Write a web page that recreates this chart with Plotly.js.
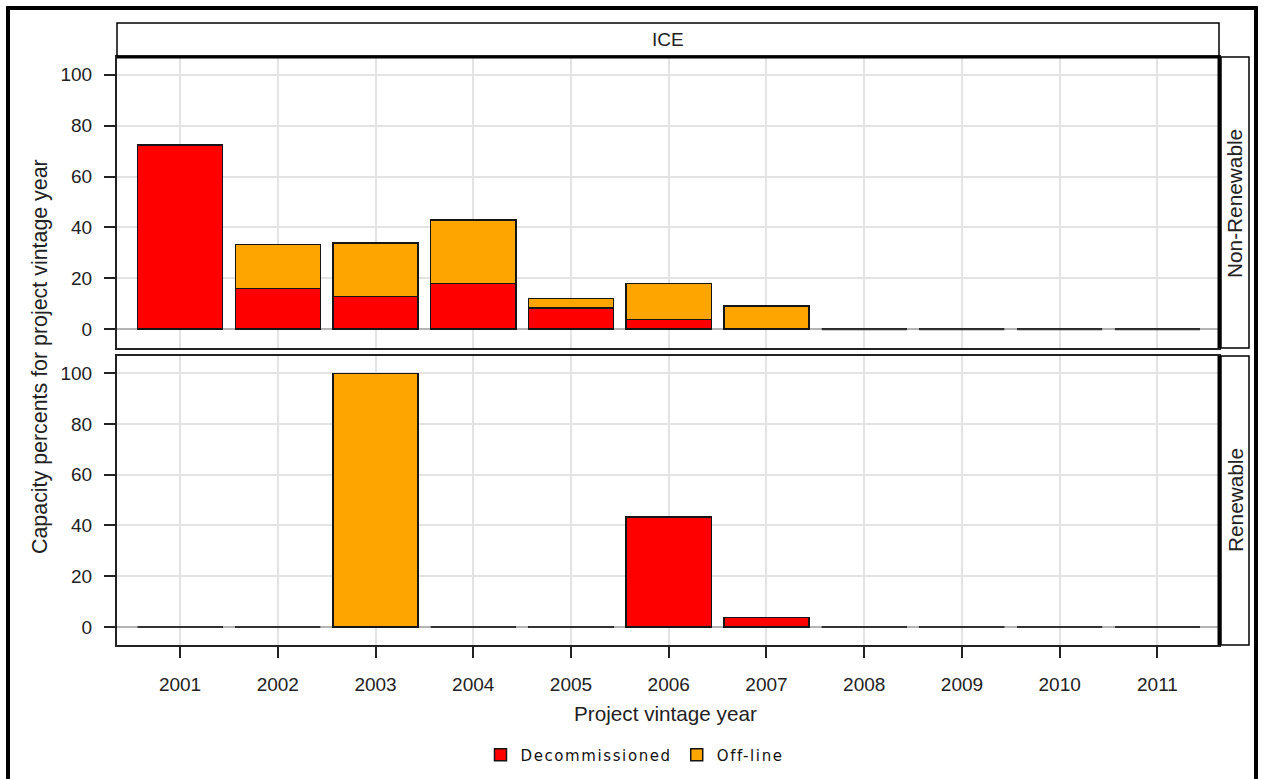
<!DOCTYPE html>
<html>
<head>
<meta charset="utf-8">
<script src="https://cdn.plot.ly/plotly-3.0.1.min.js"></script>
<style>
html,body{margin:0;padding:0;background:#fff;}
#chart{width:1264px;height:779px;}
.legendtext{letter-spacing:1.6px;}
</style>
</head>
<body>
<div id="chart"></div>
<script>
// ---- data ----
const years = ['2001','2002','2003','2004','2005','2006','2007','2008','2009','2010','2011'];
const nonRenewDecommissioned = [72.5, 16.0, 12.9, 18.0, 8.4, 3.8, 0, 0, 0, 0, 0];
const nonRenewOffline        = [0, 17.2, 20.9, 25.0, 3.6, 14.2, 9.1, 0, 0, 0, 0];
const renewDecommissioned    = [0, 0, 0, 0, 0, 43.4, 3.8, 0, 0, 0, 0];
const renewOffline           = [0, 0, 100, 0, 0, 0, 0, 0, 0, 0, 0];
const seriesNames = ['Decommissioned', 'Off-line'];
const panelLabels = ['Non-Renewable', 'Renewable'];
const stripLabel = 'ICE';
const xTitle = 'Project vintage year';
const yTitle = 'Capacity percents for project vintage year';
const yTicks = [0, 20, 40, 60, 80, 100];

// ---- layout helpers (pixel -> paper) ----
const W = 1264, H = 779;
const px = v => v / W;
const py = v => 1 - v / H;

const RED = '#ff0000', ORANGE = '#ffa500';
const outline = {color: '#151515', width: 1.5};
const FONT = 'Liberation Sans, Arial, sans-serif';

function barTrace(name, y, color, xaxis, yaxis, showlegend) {
  return {
    type: 'bar', name: name, x: years, y: y, xaxis: xaxis, yaxis: yaxis,
    marker: {color: color, line: outline},
    showlegend: showlegend, legendgroup: name, hoverinfo: 'x+y+name'
  };
}

const data = [
  barTrace(seriesNames[0], nonRenewDecommissioned, RED, 'x', 'y', true),
  barTrace(seriesNames[1], nonRenewOffline, ORANGE, 'x', 'y', true),
  barTrace(seriesNames[0], renewDecommissioned, RED, 'x2', 'y2', false),
  barTrace(seriesNames[1], renewOffline, ORANGE, 'x2', 'y2', false)
];

// zero-total bars drawn as flat outline segments (as in the reference)
const shapes = [];
function zeroSegs(dec, off, xref, yref) {
  years.forEach((yr, i) => {
    if (dec[i] + off[i] === 0) {
      shapes.push({type: 'line', xref: xref, yref: yref, x0: i - 0.435, x1: i + 0.435, y0: 0, y1: 0,
                   line: {color: '#333', width: 2}});
    }
  });
}
zeroSegs(nonRenewDecommissioned, nonRenewOffline, 'x', 'y');
zeroSegs(renewDecommissioned, renewOffline, 'x2', 'y2');

// strips and frame
const L = 117, R = 1219, T1 = 57, B1 = 348, T2 = 356, B2 = 645;
shapes.push({type: 'rect', xref: 'paper', yref: 'paper', x0: px(L), x1: px(R), y0: py(56), y1: py(23),
             line: {color: '#000', width: 1.5}, fillcolor: '#fff'});
shapes.push({type: 'rect', xref: 'paper', yref: 'paper', x0: px(1221), x1: px(1249), y0: py(B1), y1: py(T1),
             line: {color: '#000', width: 1.5}, fillcolor: '#fff'});
shapes.push({type: 'rect', xref: 'paper', yref: 'paper', x0: px(1221), x1: px(1249), y0: py(B2), y1: py(T2),
             line: {color: '#000', width: 1.5}, fillcolor: '#fff'});
// thick panel edges
shapes.push({type: 'line', xref: 'paper', yref: 'paper', x0: px(L), x1: px(R + 1), y0: py(T1), y1: py(T1),
             line: {color: '#000', width: 3}});
shapes.push({type: 'line', xref: 'paper', yref: 'paper', x0: px(R), x1: px(R), y0: py(B1), y1: py(T1),
             line: {color: '#000', width: 3}});
shapes.push({type: 'line', xref: 'paper', yref: 'paper', x0: px(R), x1: px(R), y0: py(B2), y1: py(T2),
             line: {color: '#000', width: 3}});
// outer image border
shapes.push({type: 'rect', xref: 'paper', yref: 'paper', x0: px(8), x1: px(1256), y0: py(8), y1: py(800),
             line: {color: '#000', width: 4}, fillcolor: 'rgba(0,0,0,0)'});

const tickFont = {family: FONT, size: 19, color: '#222'};
const annotations = [
  {text: stripLabel, xref: 'paper', yref: 'paper', x: px((L + R) / 2), y: py(40), showarrow: false,
   font: {family: FONT, size: 19, color: '#222'}, xanchor: 'center', yanchor: 'middle'},
  {text: panelLabels[0], xref: 'paper', yref: 'paper', x: px(1235), y: py(204), showarrow: false,
   font: {family: FONT, size: 20.8, color: '#222'}, textangle: -90, xanchor: 'center', yanchor: 'middle'},
  {text: panelLabels[1], xref: 'paper', yref: 'paper', x: px(1235), y: py(500), showarrow: false,
   font: {family: FONT, size: 20.8, color: '#222'}, textangle: -90, xanchor: 'center', yanchor: 'middle'},
  {text: yTitle, xref: 'paper', yref: 'paper', x: px(40), y: py(357), showarrow: false,
   font: {family: FONT, size: 21.4, color: '#222'}, textangle: -90, xanchor: 'center', yanchor: 'middle'},
  {text: xTitle, xref: 'paper', yref: 'paper', x: px(665), y: py(713), showarrow: false,
   font: {family: FONT, size: 20.7, color: '#222'}, xanchor: 'center', yanchor: 'middle'}
];

function yAxis(domain, range, anchor) {
  return {
    domain: domain, range: range, tickvals: yTicks, ticks: 'outside', ticklen: 11, tickwidth: 2,
    tickcolor: '#222', ticklabelstandoff: 8, tickfont: tickFont,
    showgrid: true, gridcolor: '#e3e3e3', gridwidth: 2,
    zeroline: true, zerolinecolor: '#b4b4b4', zerolinewidth: 2,
    showline: true, linecolor: '#222', linewidth: 2, mirror: true, anchor: anchor, fixedrange: true
  };
}

const xCommon = {
  domain: [px(L), px(R)], type: 'category', range: [-0.645, 10.63],
  showgrid: true, gridcolor: '#e3e3e3', gridwidth: 2,
  showline: true, linecolor: '#222', linewidth: 2, mirror: true, zeroline: false, fixedrange: true
};

const layout = {
  width: W, height: H,
  margin: {l: 0, r: 0, t: 0, b: 0},
  paper_bgcolor: '#fff', plot_bgcolor: '#fff',
  barmode: 'stack', bargap: 0.13,
  font: {family: FONT, color: '#222'},
  xaxis: Object.assign({}, xCommon, {anchor: 'y', ticks: '', showticklabels: false}),
  xaxis2: Object.assign({}, xCommon, {anchor: 'y2', matches: 'x',
    ticks: 'outside', ticklen: 11, tickwidth: 2, tickcolor: '#222', ticklabelstandoff: 10,
    tickfont: tickFont}),
  yaxis: yAxis([py(B1), py(T1)], [-7.4, 107.0], 'x'),
  yaxis2: yAxis([py(B2), py(T2)], [-7.1, 106.8], 'x2'),
  showlegend: true,
  legend: {orientation: 'h', x: px(635), xanchor: 'center', y: py(755), yanchor: 'middle',
           font: {family: 'DejaVu Sans, sans-serif', size: 15, color: '#111'},
           traceorder: 'normal', itemclick: false, itemdoubleclick: false},
  shapes: shapes,
  annotations: annotations
};

Plotly.newPlot('chart', data, layout, {displayModeBar: false, staticPlot: true});
</script>
</body>
</html>
